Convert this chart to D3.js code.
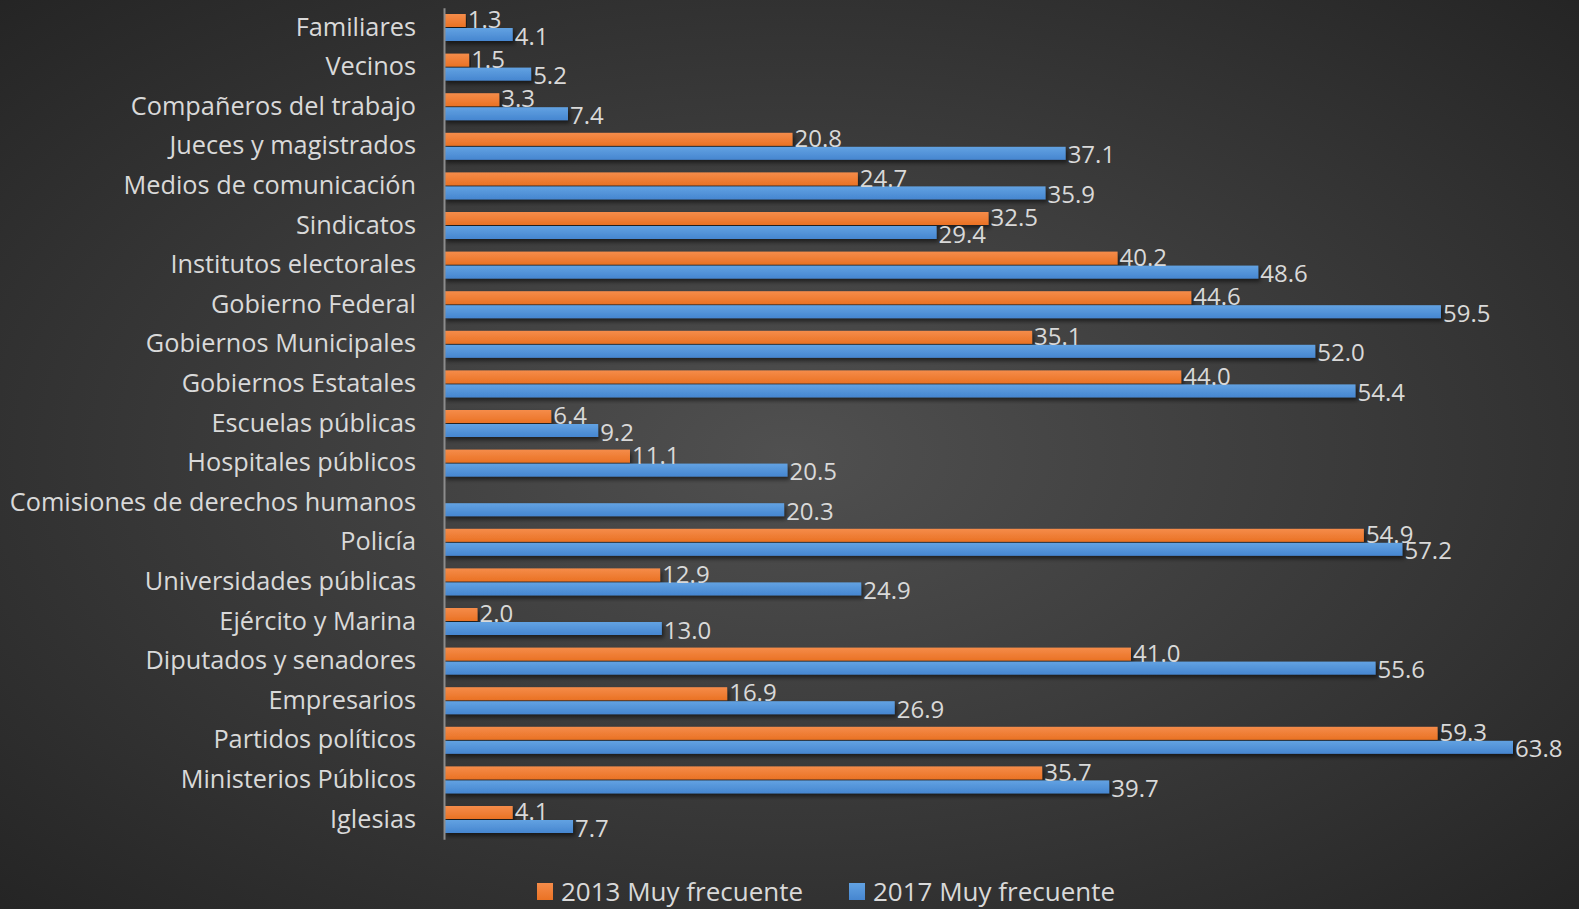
<!DOCTYPE html>
<html>
<head>
<meta charset="UTF-8">
<title>Muy frecuente 2013 vs 2017</title>
<script src="https://cdn.jsdelivr.net/npm/d3@7"></script>
<style>
	body{ margin:0; background:#2b2b2b; overflow:hidden; }
	svg{ display:block; font-family:"Open Sans", sans-serif; }
</style>
</head>
<body>
<script>
var categories = ["Familiares", "Vecinos", "Compañeros del trabajo", "Jueces y magistrados",
	"Medios de comunicación", "Sindicatos", "Institutos electorales", "Gobierno Federal",
	"Gobiernos Municipales", "Gobiernos Estatales", "Escuelas públicas", "Hospitales públicos",
	"Comisiones de derechos humanos", "Policía", "Universidades públicas", "Ejército y Marina",
	"Diputados y senadores", "Empresarios", "Partidos políticos", "Ministerios Públicos", "Iglesias"];
var values2013 = [1.3, 1.5, 3.3, 20.8, 24.7, 32.5, 40.2, 44.6, 35.1, 44.0, 6.4, 11.1, null,
	54.9, 12.9, 2.0, 41.0, 16.9, 59.3, 35.7, 4.1];
var values2017 = [4.1, 5.2, 7.4, 37.1, 35.9, 29.4, 48.6, 59.5, 52.0, 54.4, 9.2, 20.5, 20.3,
	57.2, 24.9, 13.0, 55.6, 26.9, 63.8, 39.7, 7.7];
var seriesNames = ["2013 Muy frecuente", "2017 Muy frecuente"];

var width = 1579, height = 909;
var svg = d3.select("body").append("svg")
	.attr("width", width)
	.attr("height", height);

var defs = svg.append("defs");
var bg = defs.append("radialGradient").attr("id", "bg")
	.attr("cx", "50%").attr("cy", "50%").attr("r", "75%");
bg.append("stop").attr("offset", "0%").attr("stop-color", "#505050");
bg.append("stop").attr("offset", "100%").attr("stop-color", "#222222");

// bar fills, lighter on top
var fills = [["#f58c4a", "#ea7224"], ["#62a2e2", "#4686d0"]];
fills.forEach(function(f, i){
	var g = defs.append("linearGradient").attr("id", "bar" + i)
		.attr("x1", 0).attr("y1", 0).attr("x2", 0).attr("y2", 1);
	g.append("stop").attr("offset", "0%").attr("stop-color", f[0]);
	g.append("stop").attr("offset", "100%").attr("stop-color", f[1]);
});
defs.append("filter").attr("id", "shadow")
	.attr("x", "-5%").attr("y", "-50%").attr("width", "110%").attr("height", "200%")
	.append("feDropShadow")
	.attr("dx", 2).attr("dy", 3).attr("stdDeviation", 2)
	.attr("flood-color", "#000").attr("flood-opacity", 0.55);

svg.append("rect").attr("width", width).attr("height", height).attr("fill", "url(#bg)");

var x = d3.scaleLinear().domain([0, 63.8]).range([444, 1513]);
var y = d3.scaleBand().domain(categories).range([7.7, 839.3]);
var inner = d3.scaleBand().domain([0, 1]).range([6.3, 33.3]).paddingInner(0.0714);

var rows = categories.map(function(c, i){
	return {cat: c, vals: [values2013[i], values2017[i]]};
});

var groups = svg.selectAll("g.row").data(rows).enter().append("g")
	.attr("class", "row")
	.attr("transform", function(d){ return "translate(0," + y(d.cat) + ")"; });

function barData(d){
	return d.vals.map(function(v, s){ return {v: v, s: s}; }).filter(function(e){ return e.v != null; });
}

groups.selectAll("rect").data(barData)
	.enter().append("rect")
	.attr("x", x(0))
	.attr("y", function(d){ return inner(d.s); })
	.attr("width", function(d){ return x(d.v) - x(0); })
	.attr("height", inner.bandwidth())
	.attr("fill", function(d){ return "url(#bar" + d.s + ")"; })
	.attr("filter", "url(#shadow)");

groups.selectAll("text.val").data(barData)
	.enter().append("text")
	.attr("class", "val")
	.attr("x", function(d){ return x(d.v) + 2; })
	.attr("y", function(d){ return inner(d.s) + inner.bandwidth() / 2 + (d.s == 0 ? -1 : 1.5); })
	.attr("dy", "0.36em")
	.attr("font-size", 24)
	.attr("fill", "#d9d9d9")
	.text(function(d){ return d.v.toFixed(1); });

// category axis
var axis = svg.append("g").attr("transform", "translate(" + x(0) + ",0)")
	.call(d3.axisLeft(y).tickSize(0).tickPadding(28));
axis.select(".domain").attr("stroke", "#8c8c8c").attr("stroke-width", 2);
axis.selectAll("text")
	.attr("font-size", 25.3)
	.attr("font-family", "'Open Sans', sans-serif")
	.attr("fill", "#d9d9d9");

// legend
var legend = svg.append("g");
var legendX = [537, 849];
seriesNames.forEach(function(name, i){
	var lg = legend.append("g").attr("transform", "translate(" + legendX[i] + ",883)");
	lg.append("rect").attr("width", 16).attr("height", 17).attr("fill", "url(#bar" + i + ")");
	lg.append("text").attr("x", 24).attr("y", 8.5).attr("dy", "0.36em")
		.attr("font-size", 26).attr("fill", "#d9d9d9").text(name);
});
</script>
</body>
</html>
